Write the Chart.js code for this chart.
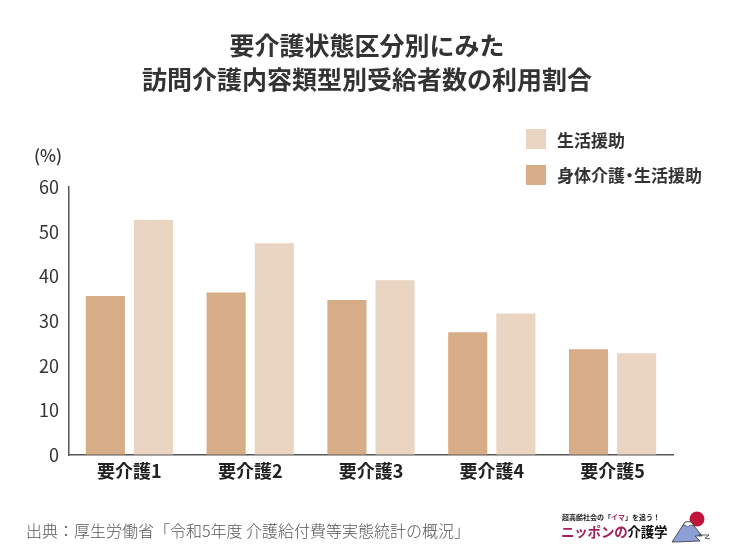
<!DOCTYPE html>
<html lang="ja">
<head>
<meta charset="utf-8">
<script src="https://cdn.jsdelivr.net/npm/chart.js@4.4.1/dist/chart.umd.min.js"></script>
<style>
  html, body { margin: 0; padding: 0; background: #fff; }
  body { width: 734px; height: 554px; position: relative; overflow: hidden;
         font-family: "Noto Sans CJK JP", "Noto Sans", sans-serif; }
  #wrap { position: absolute; left: 0; top: 0; width: 734px; height: 554px; }
  .abs { position: absolute; white-space: nowrap; }
  #title { left: 0; width: 734px; top: 27px; text-align: center; font-size: 25px; font-weight: 700;
           line-height: 34px; color: #333; }
  .lg-box { position: absolute; width: 20px; height: 20px; }
  .lg-txt { position: absolute; font-size: 17px; font-weight: 700; color: #333; line-height: 20px; white-space: nowrap; }
  .dot { display: inline-block; margin: 0 -4px; }
  #unit { left: 34px; top: 145px; font-size: 17px; font-weight: 500; color: #333; line-height: 20px; }
  #source { left: 26px; top: 519px; font-size: 16px; font-weight: 300; color: #555; line-height: 22px; }
  #logo1 { left: 562px; top: 513px; font-size: 7px; font-weight: 700; color: #222; line-height: 9px; }
  #logo2 { left: 561px; top: 522px; font-size: 13.5px; font-weight: 700; color: #111; line-height: 18px; letter-spacing: -0.2px; }
  .mg { color: #a3205c; }
</style>
</head>
<body>
<div id="wrap"><canvas id="c"></canvas></div>
<div id="title" class="abs">要介護状態区分別にみた<br>訪問介護内容類型別受給者数の利用割合</div>
<div id="unit" class="abs">(%)</div>
<div class="lg-box" style="left:526px;top:129px;background:#ead5c3"></div>
<div class="lg-txt" style="left:557px;top:130px">生活援助</div>
<div class="lg-box" style="left:526px;top:165px;background:#d7ad87"></div>
<div class="lg-txt" style="left:557px;top:165px">身体介護<span class="dot">・</span>生活援助</div>
<div id="source" class="abs">出典：厚生労働省「令和5年度 介護給付費等実態統計の概況」</div>
<div id="logo1" class="abs">超高齢社会の「<span class="mg">イマ</span>」を追う！</div>
<div id="logo2" class="abs"><span class="mg">ニッポンの</span>介護学</div>
<svg class="abs" style="left:671px;top:510px" width="40" height="34" viewBox="0 0 40 34">
  <circle cx="26" cy="9" r="7.5" fill="#c0143c"/>
  <polygon points="1,32 14,12 20,12 31,26 24,26 29,31 3,32" fill="#8d9fd6" stroke="#333" stroke-width="0.8"/>
  <polygon points="14,12 20,12 23,16 19,15 17,17 14,15 12,16" fill="#fff" stroke="#333" stroke-width="0.6"/>
  <path d="M27,25 L38,25 L34,28 L39,29" fill="none" stroke="#333" stroke-width="0.8"/>
</svg>
<script>
const categories = ["要介護1", "要介護2", "要介護3", "要介護4", "要介護5"];
const physicalAndLiving = [35.6, 36.4, 34.7, 27.5, 23.7];
const livingSupport = [52.6, 47.4, 39.1, 31.7, 22.8];
const seriesNames = ["身体介護・生活援助", "生活援助"];
const yTicks = [0, 10, 20, 30, 40, 50, 60];

new Chart(document.getElementById("c"), {
  type: "bar",
  data: {
    labels: categories,
    datasets: [
      { label: seriesNames[0], data: physicalAndLiving, backgroundColor: "#d7ad87",
        categoryPercentage: 0.797, barPercentage: 0.8125 },
      { label: seriesNames[1], data: livingSupport, backgroundColor: "#ead5c3",
        categoryPercentage: 0.797, barPercentage: 0.8125 }
    ]
  },
  options: {
    responsive: true,
    maintainAspectRatio: false,
    animation: false,
    layout: { padding: { top: 187, right: 61, bottom: 0, left: 0 } },
    plugins: { legend: { display: false }, title: { display: false }, tooltip: { enabled: false } },
    scales: {
      x: {
        grid: { display: true, drawOnChartArea: false, drawTicks: false },
        border: { display: true, color: "#555", width: 1.5 },
        ticks: { color: "#222", padding: 5, font: { family: "Noto Sans CJK JP", size: 18, weight: "bold" } },
        afterFit: s => { s.height = 99; }
      },
      y: {
        min: 0, max: 60,
        afterBuildTicks: s => { s.ticks = yTicks.map(v => ({ value: v })); },
        grid: { display: true, drawOnChartArea: false, drawTicks: false },
        border: { display: true, color: "#555", width: 1.5 },
        ticks: { color: "#333", padding: 10, font: { family: "Noto Sans CJK JP", size: 18 } },
        afterFit: s => { s.width = 69; }
      }
    }
  }
});
</script>
</body>
</html>
